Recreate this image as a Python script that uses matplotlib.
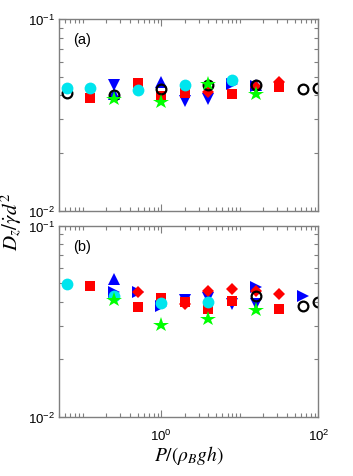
import matplotlib
matplotlib.use("Agg")
import matplotlib.pyplot as plt
from matplotlib.ticker import FixedLocator, NullFormatter, LogLocator
import numpy as np

plt.rcParams['font.family'] = ['Liberation Sans', 'DejaVu Sans']
plt.rcParams['mathtext.fontset'] = 'stix'

# ---- data: panel (a) ----
a_black_x = [0.0625, 0.25, 1, 4, 16, 64, 100]
a_black_y = [0.041, 0.040, 0.0432, 0.045, 0.045, 0.0432, 0.0437]
a_cyan_x = [0.0625, 0.125, 0.5, 2, 8]
a_cyan_y = [0.0437, 0.0437, 0.0426, 0.0454, 0.048]
a_rsq_x = [0.125, 0.5, 1, 2, 8, 32]
a_rsq_y = [0.0387, 0.0463, 0.0398, 0.041, 0.0406, 0.044]
a_bdown_x = [0.25, 2, 4]
a_bdown_y = [0.0454, 0.0375, 0.0383]
a_bup_x = [0.25, 1, 16]
a_bup_y = [0.0406, 0.0467, 0.045]
a_bright_x = [8, 16]
a_bright_y = [0.0458, 0.0448]
a_rdia_x = [4, 16, 32]
a_rdia_y = [0.0415, 0.0443, 0.0467]
a_star_x = [0.25, 1, 4, 16]
a_star_y = [0.0383, 0.0368, 0.0458, 0.0406]

# ---- data: panel (b) ----
b_black_x = [16, 64, 100]
b_black_y = [0.043, 0.0378, 0.040]
b_cyan_x = [0.0625, 0.25, 1, 4]
b_cyan_y = [0.0495, 0.043, 0.0394, 0.040]
b_rsq_x = [0.125, 0.5, 1, 2, 4, 8, 32]
b_rsq_y = [0.0482, 0.0374, 0.0417, 0.040, 0.0366, 0.0405, 0.0366]
b_bdown_x = [2, 4, 8, 16]
b_bdown_y = [0.041, 0.042, 0.039, 0.0389]
b_bup_x = [0.25]
b_bup_y = [0.0526]
b_bright_x = [0.25, 0.5, 1, 16, 64]
b_bright_y = [0.0448, 0.045, 0.038, 0.0476, 0.043]
b_rdia_x = [0.5, 2, 4, 8, 16, 32]
b_rdia_y = [0.0448, 0.039, 0.0457, 0.0466, 0.0457, 0.0439]
b_star_x = [0.25, 1, 4, 16]
b_star_y = [0.041, 0.0302, 0.0324, 0.0363]

panel_labels = ['(a)', '(b)']
xlim = (0.05, 100)
ylim = (0.01, 0.1)

fig = plt.figure(figsize=(3.53, 4.77), dpi=100)
L, W = 59/353, (318.3-59)/353
ax_a = fig.add_axes([L, 1-211.7/477, W, (211.7-20)/477])
ax_b = fig.add_axes([L, 1-417.7/477, W, (417.7-226.7)/477])

gray = '#7f7f7f'

def draw(ax, d):
    ax.plot(d['bdown'][0], d['bdown'][1], 'v', color='#0000ff', ms=8.5, ls='none', mew=0)
    ax.plot(d['bup'][0], d['bup'][1], '^', color='#0000ff', ms=8.5, ls='none', mew=0)
    ax.plot(d['bright'][0], d['bright'][1], '>', color='#0000ff', ms=8.5, ls='none', mew=0)
    ax.plot(d['rsq'][0], d['rsq'][1], 's', color='#ff0000', ms=6.5, ls='none', mew=0)
    ax.plot(d['rdia'][0], d['rdia'][1], 'D', color='#ff0000', ms=6.3, ls='none', mew=0)
    ax.plot(d['black'][0], d['black'][1], 'o', mfc='none', mec='black', ms=7, mew=1.6, ls='none')
    ax.plot(d['cyan'][0], d['cyan'][1], 'o', color='#00e5ee', ms=8.5, ls='none', mew=0)
    ax.plot(d['star'][0], d['star'][1], '*', color='#00ff00', ms=11.5, ls='none', mew=0)

draw(ax_a, dict(black=(a_black_x, a_black_y), cyan=(a_cyan_x, a_cyan_y), rsq=(a_rsq_x, a_rsq_y),
                bdown=(a_bdown_x, a_bdown_y), bup=(a_bup_x, a_bup_y), bright=(a_bright_x, a_bright_y),
                rdia=(a_rdia_x, a_rdia_y), star=(a_star_x, a_star_y)))
draw(ax_b, dict(black=(b_black_x, b_black_y), cyan=(b_cyan_x, b_cyan_y), rsq=(b_rsq_x, b_rsq_y),
                bdown=(b_bdown_x, b_bdown_y), bup=(b_bup_x, b_bup_y), bright=(b_bright_x, b_bright_y),
                rdia=(b_rdia_x, b_rdia_y), star=(b_star_x, b_star_y)))

for ax, lab in zip([ax_a, ax_b], panel_labels):
    ax.set_xscale('log')
    ax.set_yscale('log')
    ax.set_xlim(*xlim)
    ax.set_ylim(*ylim)
    ax.xaxis.set_major_locator(FixedLocator([1, 100]))
    ax.xaxis.set_minor_locator(LogLocator(base=10, subs=np.arange(1, 10), numticks=20))
    ax.xaxis.set_minor_formatter(NullFormatter())
    ax.yaxis.set_major_locator(FixedLocator([0.01, 0.1]))
    ax.yaxis.set_minor_locator(LogLocator(base=10, subs=np.arange(2, 10), numticks=20))
    ax.yaxis.set_minor_formatter(NullFormatter())
    ax.tick_params(which='both', direction='in', top=True, right=True, color=gray, labelsize=9.5, width=0.8)
    ax.tick_params(which='major', length=5, pad=3)
    ax.tick_params(which='minor', length=3)
    ax.tick_params(axis='x', which='major', pad=8)
    for s in ax.spines.values():
        s.set_color(gray)
        s.set_linewidth(1.0)
    ax.text(0.055, 0.93, lab, transform=ax.transAxes, fontsize=10.5, va='top', ha='left')

ax_a.tick_params(labelbottom=False)
ax_b.set_xlabel(r'$P/(\rho_B g h)$', fontsize=14, labelpad=0)
fig.text(0.035, 0.535, r'$D_z/\dot{\gamma}d^2$', rotation=90, fontsize=15, ha='center', va='center')

fig.savefig('out.png', dpi=100)
